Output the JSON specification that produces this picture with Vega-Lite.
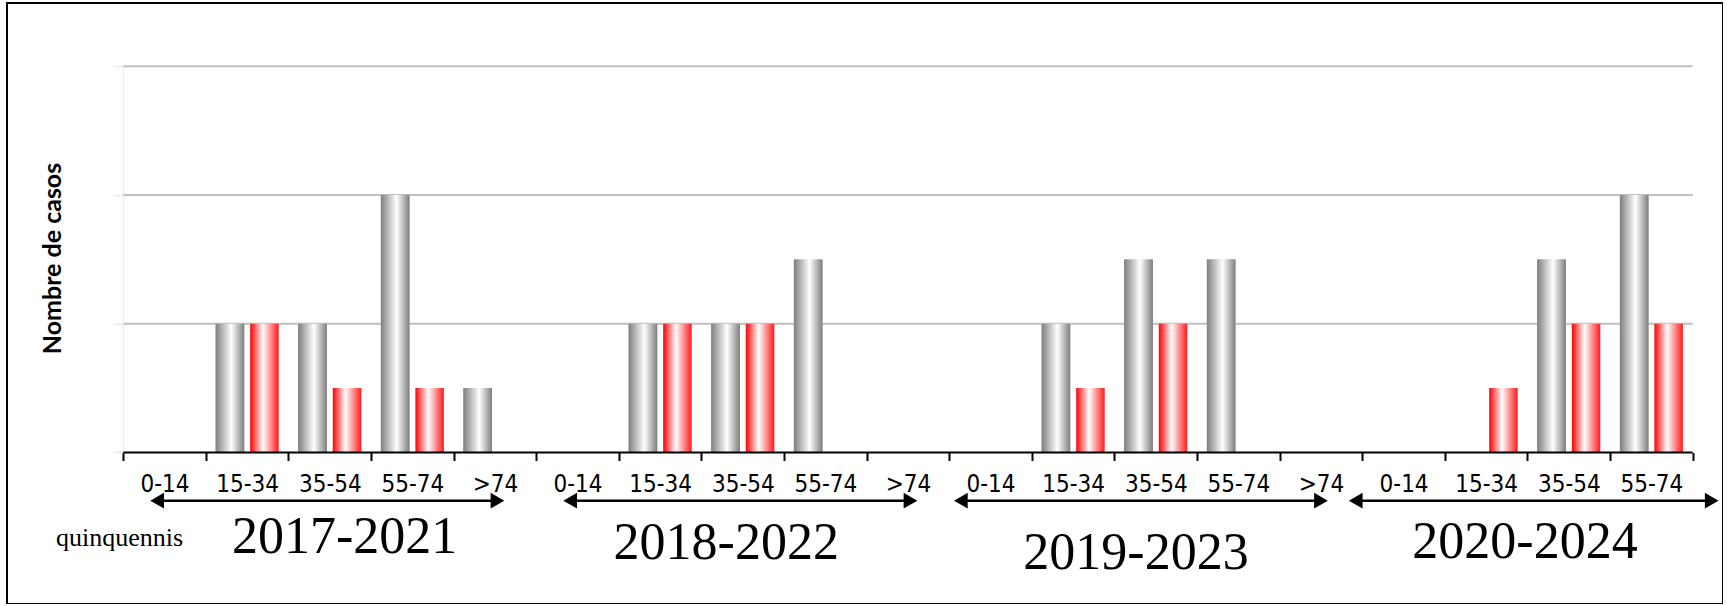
{
  "$schema": "https://vega.github.io/schema/vega-lite/v6.json",
  "width": 1716,
  "height": 601,
  "autosize": {"type": "none"},
  "padding": {"left": 7, "top": 3, "right": 0, "bottom": 0},
  "background": "white",
  "config": {"view": {"stroke": "black", "strokeWidth": 2}},
  "datasets": {
    "bars": [
      {"periode": "2017-2021", "edat": "0-14", "cat": "2017-2021|0-14", "sexe": "Homes", "casos": 0},
      {"periode": "2017-2021", "edat": "0-14", "cat": "2017-2021|0-14", "sexe": "Dones", "casos": 0},
      {"periode": "2017-2021", "edat": "15-34", "cat": "2017-2021|15-34", "sexe": "Homes", "casos": 2},
      {"periode": "2017-2021", "edat": "15-34", "cat": "2017-2021|15-34", "sexe": "Dones", "casos": 2},
      {"periode": "2017-2021", "edat": "35-54", "cat": "2017-2021|35-54", "sexe": "Homes", "casos": 2},
      {"periode": "2017-2021", "edat": "35-54", "cat": "2017-2021|35-54", "sexe": "Dones", "casos": 1},
      {"periode": "2017-2021", "edat": "55-74", "cat": "2017-2021|55-74", "sexe": "Homes", "casos": 4},
      {"periode": "2017-2021", "edat": "55-74", "cat": "2017-2021|55-74", "sexe": "Dones", "casos": 1},
      {"periode": "2017-2021", "edat": ">74", "cat": "2017-2021|>74", "sexe": "Homes", "casos": 1},
      {"periode": "2017-2021", "edat": ">74", "cat": "2017-2021|>74", "sexe": "Dones", "casos": 0},
      {"periode": "2018-2022", "edat": "0-14", "cat": "2018-2022|0-14", "sexe": "Homes", "casos": 0},
      {"periode": "2018-2022", "edat": "0-14", "cat": "2018-2022|0-14", "sexe": "Dones", "casos": 0},
      {"periode": "2018-2022", "edat": "15-34", "cat": "2018-2022|15-34", "sexe": "Homes", "casos": 2},
      {"periode": "2018-2022", "edat": "15-34", "cat": "2018-2022|15-34", "sexe": "Dones", "casos": 2},
      {"periode": "2018-2022", "edat": "35-54", "cat": "2018-2022|35-54", "sexe": "Homes", "casos": 2},
      {"periode": "2018-2022", "edat": "35-54", "cat": "2018-2022|35-54", "sexe": "Dones", "casos": 2},
      {"periode": "2018-2022", "edat": "55-74", "cat": "2018-2022|55-74", "sexe": "Homes", "casos": 3},
      {"periode": "2018-2022", "edat": "55-74", "cat": "2018-2022|55-74", "sexe": "Dones", "casos": 0},
      {"periode": "2018-2022", "edat": ">74", "cat": "2018-2022|>74", "sexe": "Homes", "casos": 0},
      {"periode": "2018-2022", "edat": ">74", "cat": "2018-2022|>74", "sexe": "Dones", "casos": 0},
      {"periode": "2019-2023", "edat": "0-14", "cat": "2019-2023|0-14", "sexe": "Homes", "casos": 0},
      {"periode": "2019-2023", "edat": "0-14", "cat": "2019-2023|0-14", "sexe": "Dones", "casos": 0},
      {"periode": "2019-2023", "edat": "15-34", "cat": "2019-2023|15-34", "sexe": "Homes", "casos": 2},
      {"periode": "2019-2023", "edat": "15-34", "cat": "2019-2023|15-34", "sexe": "Dones", "casos": 1},
      {"periode": "2019-2023", "edat": "35-54", "cat": "2019-2023|35-54", "sexe": "Homes", "casos": 3},
      {"periode": "2019-2023", "edat": "35-54", "cat": "2019-2023|35-54", "sexe": "Dones", "casos": 2},
      {"periode": "2019-2023", "edat": "55-74", "cat": "2019-2023|55-74", "sexe": "Homes", "casos": 3},
      {"periode": "2019-2023", "edat": "55-74", "cat": "2019-2023|55-74", "sexe": "Dones", "casos": 0},
      {"periode": "2019-2023", "edat": ">74", "cat": "2019-2023|>74", "sexe": "Homes", "casos": 0},
      {"periode": "2019-2023", "edat": ">74", "cat": "2019-2023|>74", "sexe": "Dones", "casos": 0},
      {"periode": "2020-2024", "edat": "0-14", "cat": "2020-2024|0-14", "sexe": "Homes", "casos": 0},
      {"periode": "2020-2024", "edat": "0-14", "cat": "2020-2024|0-14", "sexe": "Dones", "casos": 0},
      {"periode": "2020-2024", "edat": "15-34", "cat": "2020-2024|15-34", "sexe": "Homes", "casos": 0},
      {"periode": "2020-2024", "edat": "15-34", "cat": "2020-2024|15-34", "sexe": "Dones", "casos": 1},
      {"periode": "2020-2024", "edat": "35-54", "cat": "2020-2024|35-54", "sexe": "Homes", "casos": 3},
      {"periode": "2020-2024", "edat": "35-54", "cat": "2020-2024|35-54", "sexe": "Dones", "casos": 2},
      {"periode": "2020-2024", "edat": "55-74", "cat": "2020-2024|55-74", "sexe": "Homes", "casos": 4},
      {"periode": "2020-2024", "edat": "55-74", "cat": "2020-2024|55-74", "sexe": "Dones", "casos": 2}
    ],
    "linies": [
      {"tipus": "graella", "nivell": 2, "inici": "2017-2021|0-14", "fi": "2020-2024|55-74"},
      {"tipus": "graella", "nivell": 4, "inici": "2017-2021|0-14", "fi": "2020-2024|55-74"},
      {"tipus": "graella", "nivell": 6, "inici": "2017-2021|0-14", "fi": "2020-2024|55-74"},
      {"tipus": "base", "nivell": 0, "inici": "2017-2021|0-14", "fi": "2020-2024|55-74"}
    ],
    "eix": [
      {"inici": "2017-2021|0-14", "baix": 0, "dalt": 6}
    ],
    "fletxes": [
      {"periode": "2017-2021", "inici": "2017-2021|0-14", "fi": "2017-2021|55-74"},
      {"periode": "2018-2022", "inici": "2018-2022|0-14", "fi": "2018-2022|55-74"},
      {"periode": "2019-2023", "inici": "2019-2023|0-14", "fi": "2019-2023|55-74"},
      {"periode": "2020-2024", "inici": "2020-2024|0-14", "fi": "2020-2024|55-74"}
    ],
    "periodes": [
      {"periode": "2017-2021", "ancora": "2017-2021|35-54"},
      {"periode": "2018-2022", "ancora": "2018-2022|35-54"},
      {"periode": "2019-2023", "ancora": "2019-2023|35-54"},
      {"periode": "2020-2024", "ancora": "2020-2024|15-34"}
    ]
  },
  "resolve": {"scale": {"x": "shared", "y": "shared"}},
  "layer": [
    {
      "data": {"name": "bars"},
      "transform": [{"filter": "datum.sexe == 'Homes'"}],
      "mark": {
        "type": "bar",
        "fill": {"gradient": "linear", "x1": 0, "y1": 0, "x2": 1, "y2": 0,
          "stops": [{"offset": 0, "color": "#7f7f7f"}, {"offset": 0.55, "color": "#ffffff"}, {"offset": 1, "color": "#7f7f7f"}]}
      },
      "encoding": {
        "x": {
          "field": "cat", "type": "nominal", "title": "quinquennis", "sort": null,
          "scale": {
            "domain": ["2017-2021|0-14", "2017-2021|15-34", "2017-2021|35-54", "2017-2021|55-74", "2017-2021|>74",
                       "2018-2022|0-14", "2018-2022|15-34", "2018-2022|35-54", "2018-2022|55-74", "2018-2022|>74",
                       "2019-2023|0-14", "2019-2023|15-34", "2019-2023|35-54", "2019-2023|55-74", "2019-2023|>74",
                       "2020-2024|0-14", "2020-2024|15-34", "2020-2024|35-54", "2020-2024|55-74"],
            "paddingInner": 0, "paddingOuter": 0.8874, "align": 0.7933
          },
          "axis": {
            "title": "quinquennis", "titleFont": "Liberation Serif", "titleFontSize": 26, "titleFontWeight": "normal",
            "titleColor": "black", "titleX": 112, "titleY": 92.5, "titleAlign": "center", "titleBaseline": "alphabetic",
            "offset": -151.5, "domain": false, "grid": false, "tickBand": "extent", "bandPosition": 0.5,
            "tickColor": "black", "tickWidth": 2, "tickSize": 8,
            "labelFont": "'DejaVu Sans Condensed', 'DejaVu Sans'", "labelFontSize": 24, "labelColor": "black",
            "labelPadding": 12, "labelAngle": 0, "labelAlign": "center", "labelBaseline": "top",
            "labelExpr": "split(datum.label, '|')[1]"
          }
        },
        "xOffset": {"field": "sexe", "type": "nominal", "scale": {"domain": ["Homes", "Dones"], "paddingInner": 0.174, "paddingOuter": 0.284}},
        "y": {
          "field": "casos", "type": "quantitative", "stack": null, "title": "Nombre de casos",
          "scale": {"domain": [-2.354, 6.983], "nice": false, "zero": false},
          "axis": {
            "orient": "left", "offset": -116.3, "values": [0, 2, 4, 6], "labels": false, "domain": false, "grid": false,
            "ticks": true, "tickColor": "#ececec", "tickSize": 10, "tickWidth": 1.5,
            "title": "Nombre de casos", "titleFont": "Lato", "titleFontSize": 25, "titleFontWeight": "bold", "titleColor": "black",
            "titleX": -71, "titleY": 255, "titleAngle": 270, "titleAlign": "center", "titleBaseline": "middle"
          }
        }
      }
    },
    {
      "data": {"name": "eix"},
      "mark": {"type": "rule", "color": "#eeeeee", "strokeWidth": 1.5},
      "encoding": {
        "x": {"field": "inici", "type": "nominal", "bandPosition": 0, "title": "quinquennis"},
        "y": {"field": "baix", "type": "quantitative", "title": "Nombre de casos"},
        "y2": {"field": "dalt"}
      }
    },
    {
      "data": {"name": "linies"},
      "transform": [{"filter": "datum.tipus == 'graella'"}],
      "mark": {"type": "rule", "color": "#bfbfbf", "strokeWidth": 2},
      "encoding": {
        "x": {"field": "inici", "type": "nominal", "bandPosition": 0, "title": "quinquennis"},
        "x2": {"field": "fi", "bandPosition": 1},
        "y": {"field": "nivell", "type": "quantitative", "title": "Nombre de casos"}
      }
    },
    {
      "data": {"name": "bars"},
      "transform": [{"filter": "datum.sexe == 'Homes'"}],
      "mark": {
        "type": "bar",
        "fill": {"gradient": "linear", "x1": 0, "y1": 0, "x2": 1, "y2": 0,
          "stops": [{"offset": 0, "color": "#7f7f7f"}, {"offset": 0.55, "color": "#ffffff"}, {"offset": 1, "color": "#7f7f7f"}]}
      },
      "encoding": {
        "x": {"field": "cat", "type": "nominal", "title": "quinquennis", "sort": null},
        "xOffset": {"field": "sexe", "type": "nominal", "scale": {"domain": ["Homes", "Dones"]}},
        "y": {"field": "casos", "type": "quantitative", "stack": null, "title": "Nombre de casos"}
      }
    },
    {
      "data": {"name": "bars"},
      "transform": [{"filter": "datum.sexe == 'Dones'"}],
      "mark": {
        "type": "bar",
        "fill": {"gradient": "linear", "x1": 0, "y1": 0, "x2": 1, "y2": 0,
          "stops": [{"offset": 0, "color": "#ff0000"}, {"offset": 0.45, "color": "#ffffff"}, {"offset": 1, "color": "#ff1a1a"}]}
      },
      "encoding": {
        "x": {"field": "cat", "type": "nominal", "title": "quinquennis", "sort": null},
        "xOffset": {"field": "sexe", "type": "nominal", "scale": {"domain": ["Homes", "Dones"]}},
        "y": {"field": "casos", "type": "quantitative", "stack": null, "title": "Nombre de casos"}
      }
    },
    {
      "data": {"name": "linies"},
      "transform": [{"filter": "datum.tipus == 'base'"}],
      "mark": {"type": "rule", "color": "black", "strokeWidth": 2},
      "encoding": {
        "x": {"field": "inici", "type": "nominal", "bandPosition": 0, "title": "quinquennis"},
        "x2": {"field": "fi", "bandPosition": 1},
        "y": {"field": "nivell", "type": "quantitative", "title": "Nombre de casos"}
      }
    },
    {
      "data": {"name": "fletxes"},
      "transform": [{"filter": "datum.periode == '2017-2021' || datum.periode == '2018-2022'"}],
      "layer": [
        {
          "mark": {"type": "rule", "color": "black", "strokeWidth": 2.5},
          "encoding": {
            "x": {"field": "inici", "type": "nominal", "bandPosition": 0.41, "title": "quinquennis"},
            "x2": {"field": "fi", "bandPosition": 1.53},
            "y": {"datum": -0.749, "type": "quantitative", "title": "Nombre de casos"}
          }
        },
        {
          "mark": {"type": "point", "shape": "triangle-left", "filled": true, "color": "black", "opacity": 1, "size": 250},
          "encoding": {
            "x": {"field": "inici", "type": "nominal", "bandPosition": 0.41, "title": "quinquennis"},
            "y": {"datum": -0.749, "type": "quantitative", "title": "Nombre de casos"}
          }
        },
        {
          "mark": {"type": "point", "shape": "triangle-right", "filled": true, "color": "black", "opacity": 1, "size": 250},
          "encoding": {
            "x": {"field": "fi", "type": "nominal", "bandPosition": 1.53, "title": "quinquennis"},
            "y": {"datum": -0.749, "type": "quantitative", "title": "Nombre de casos"}
          }
        }
      ]
    },
    {
      "data": {"name": "fletxes"},
      "transform": [{"filter": "datum.periode == '2019-2023'"}],
      "layer": [
        {
          "mark": {"type": "rule", "color": "black", "strokeWidth": 2.5},
          "encoding": {
            "x": {"field": "inici", "type": "nominal", "bandPosition": 0.14, "title": "quinquennis"},
            "x2": {"field": "fi", "bandPosition": 1.5},
            "y": {"datum": -0.749, "type": "quantitative", "title": "Nombre de casos"}
          }
        },
        {
          "mark": {"type": "point", "shape": "triangle-left", "filled": true, "color": "black", "opacity": 1, "size": 250},
          "encoding": {
            "x": {"field": "inici", "type": "nominal", "bandPosition": 0.14, "title": "quinquennis"},
            "y": {"datum": -0.749, "type": "quantitative", "title": "Nombre de casos"}
          }
        },
        {
          "mark": {"type": "point", "shape": "triangle-right", "filled": true, "color": "black", "opacity": 1, "size": 250},
          "encoding": {
            "x": {"field": "fi", "type": "nominal", "bandPosition": 1.5, "title": "quinquennis"},
            "y": {"datum": -0.749, "type": "quantitative", "title": "Nombre de casos"}
          }
        }
      ]
    },
    {
      "data": {"name": "fletxes"},
      "transform": [{"filter": "datum.periode == '2020-2024'"}],
      "layer": [
        {
          "mark": {"type": "rule", "color": "black", "strokeWidth": 2.5},
          "encoding": {
            "x": {"field": "inici", "type": "nominal", "bandPosition": -0.08, "title": "quinquennis"},
            "x2": {"field": "fi", "bandPosition": 1.23},
            "y": {"datum": -0.749, "type": "quantitative", "title": "Nombre de casos"}
          }
        },
        {
          "mark": {"type": "point", "shape": "triangle-left", "filled": true, "color": "black", "opacity": 1, "size": 250},
          "encoding": {
            "x": {"field": "inici", "type": "nominal", "bandPosition": -0.08, "title": "quinquennis"},
            "y": {"datum": -0.749, "type": "quantitative", "title": "Nombre de casos"}
          }
        },
        {
          "mark": {"type": "point", "shape": "triangle-right", "filled": true, "color": "black", "opacity": 1, "size": 250},
          "encoding": {
            "x": {"field": "fi", "type": "nominal", "bandPosition": 1.23, "title": "quinquennis"},
            "y": {"datum": -0.749, "type": "quantitative", "title": "Nombre de casos"}
          }
        }
      ]
    },
    {
      "data": {"name": "periodes"},
      "transform": [{"filter": "datum.periode == '2017-2021'"}],
      "mark": {"type": "text", "font": "Liberation Serif", "fontSize": 52, "color": "black", "align": "center", "baseline": "alphabetic"},
      "encoding": {
        "x": {"field": "ancora", "type": "nominal", "bandPosition": 0.68, "title": "quinquennis"},
        "y": {"datum": -1.569, "type": "quantitative", "title": "Nombre de casos"},
        "text": {"field": "periode"}
      }
    },
    {
      "data": {"name": "periodes"},
      "transform": [{"filter": "datum.periode == '2018-2022'"}],
      "mark": {"type": "text", "font": "Liberation Serif", "fontSize": 52, "color": "black", "align": "center", "baseline": "alphabetic"},
      "encoding": {
        "x": {"field": "ancora", "type": "nominal", "bandPosition": 0.3, "title": "quinquennis"},
        "y": {"datum": -1.654, "type": "quantitative", "title": "Nombre de casos"},
        "text": {"field": "periode"}
      }
    },
    {
      "data": {"name": "periodes"},
      "transform": [{"filter": "datum.periode == '2019-2023'"}],
      "mark": {"type": "text", "font": "Liberation Serif", "fontSize": 52, "color": "black", "align": "center", "baseline": "alphabetic"},
      "encoding": {
        "x": {"field": "ancora", "type": "nominal", "bandPosition": 0.26, "title": "quinquennis"},
        "y": {"datum": -1.81, "type": "quantitative", "title": "Nombre de casos"},
        "text": {"field": "periode"}
      }
    },
    {
      "data": {"name": "periodes"},
      "transform": [{"filter": "datum.periode == '2020-2024'"}],
      "mark": {"type": "text", "font": "Liberation Serif", "fontSize": 52, "color": "black", "align": "center", "baseline": "alphabetic"},
      "encoding": {
        "x": {"field": "ancora", "type": "nominal", "bandPosition": 0.97, "title": "quinquennis"},
        "y": {"datum": -1.639, "type": "quantitative", "title": "Nombre de casos"},
        "text": {"field": "periode"}
      }
    }
  ]
}
